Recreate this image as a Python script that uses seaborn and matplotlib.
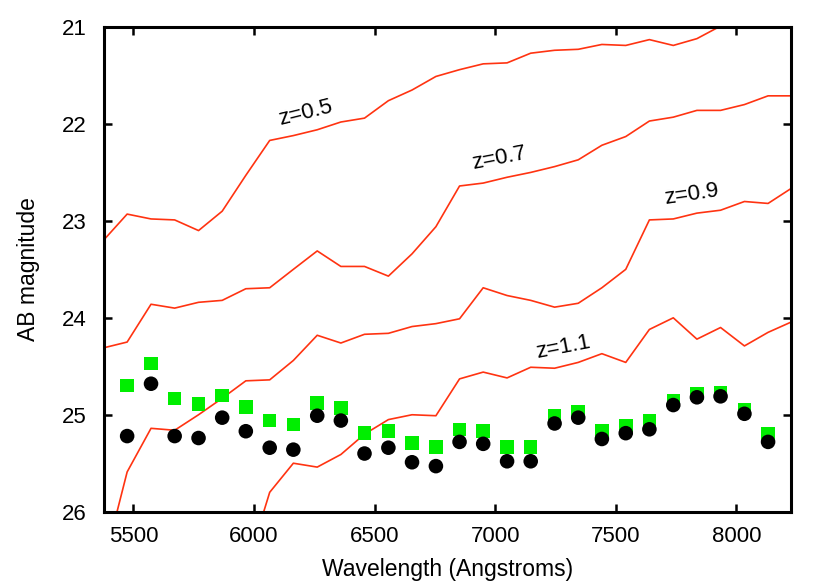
import numpy as np
import pandas as pd
import matplotlib
matplotlib.use("Agg")
import matplotlib.pyplot as plt
import seaborn as sns

# ---------------- data ----------------
wavelength = [5376, 5474, 5573, 5671, 5770, 5868, 5966, 6065, 6163, 6262,
              6360, 6458, 6557, 6655, 6754, 6852, 6950, 7049, 7147, 7246,
              7344, 7442, 7541, 7639, 7738, 7836, 7934, 8033, 8131, 8230]

z05 = [23.20, 22.93, 22.98, 22.99, 23.10, 22.90, 22.53, 22.17, 22.12, 22.06,
       21.98, 21.94, 21.76, 21.65, 21.51, 21.44, 21.38, 21.37, 21.27, 21.24,
       21.23, 21.18, 21.19, 21.13, 21.19, 21.12, 20.99, 20.92, 20.85, 20.80]
z07 = [24.31, 24.25, 23.86, 23.90, 23.84, 23.82, 23.70, 23.69, 23.50, 23.31,
       23.47, 23.47, 23.57, 23.34, 23.06, 22.64, 22.61, 22.55, 22.50, 22.44,
       22.37, 22.22, 22.13, 21.97, 21.93, 21.86, 21.86, 21.80, 21.71, 21.71]
z09 = [26.55, 25.59, 25.14, 25.16, 25.00, 24.83, 24.65, 24.64, 24.44, 24.18,
       24.26, 24.17, 24.16, 24.09, 24.06, 24.01, 23.69, 23.77, 23.82, 23.89,
       23.85, 23.69, 23.50, 22.99, 22.98, 22.92, 22.89, 22.80, 22.82, 22.66]
z11 = [None, None, None, None, None, None, 26.60, 25.80, 25.50, 25.54,
       25.41, 25.20, 25.05, 25.00, 25.01, 24.63, 24.56, 24.62, 24.51, 24.52,
       24.46, 24.37, 24.46, 24.12, 24.00, 24.22, 24.10, 24.29, 24.15, 24.04]

point_wavelength = wavelength[1:29]
green_mag = [24.70, 24.47, 24.83, 24.89, 24.80, 24.92, 25.06, 25.10, 24.88, 24.93,
             25.19, 25.17, 25.29, 25.33, 25.15, 25.17, 25.33, 25.33, 25.01, 24.97,
             25.17, 25.11, 25.06, 24.86, 24.78, 24.77, 24.95, 25.20]
black_mag = [25.22, 24.68, 25.22, 25.24, 25.03, 25.17, 25.34, 25.36, 25.01, 25.06,
             25.40, 25.34, 25.49, 25.53, 25.28, 25.30, 25.48, 25.48, 25.09, 25.03,
             25.25, 25.19, 25.15, 24.90, 24.82, 24.81, 24.99, 25.28]

curve_labels = ["z=0.5", "z=0.7", "z=0.9", "z=1.1"]
label_x = [6215, 7015, 7814, 7280]
label_y = [21.89, 22.35, 22.73, 24.30]
label_rot = [14, 11, 8.5, 11]

# ---------------- build tables ----------------
rows = []
for name, vals in zip(curve_labels, [z05, z07, z09, z11]):
    for w, m in zip(wavelength, vals):
        if m is not None:
            rows.append({"wavelength": w, "mag": m, "z": name})
curves = pd.DataFrame(rows)
points = pd.DataFrame({"wavelength": point_wavelength,
                       "green": green_mag, "black": black_mag})

# ---------------- style ----------------
sns.set_theme(style="ticks")
plt.rcParams["font.family"] = ["Liberation Sans", "DejaVu Sans"]

RED = "#ff3311"
GREEN = "#00ee00"

fig = plt.figure(figsize=(8.3, 5.81), dpi=100)
ax = fig.add_axes([0.1247, 0.1193, 0.953 - 0.1247, 0.9535 - 0.1193])

sns.lineplot(data=curves, x="wavelength", y="mag", units="z", estimator=None,
             sort=False, color=RED, linewidth=1.2, ax=ax, zorder=2)
sns.scatterplot(data=points, x="wavelength", y="green", marker="s", s=95,
                color=GREEN, edgecolor="none", linewidth=0, ax=ax, zorder=3)
sns.scatterplot(data=points, x="wavelength", y="black", marker="o", s=110,
                color="black", edgecolor="none", linewidth=0, ax=ax, zorder=4)

for t, x, y, r in zip(curve_labels, label_x, label_y, label_rot):
    ax.text(x, y, t, fontsize=16, rotation=r, rotation_mode="anchor",
            ha="center", va="center", color="black", zorder=5)

ax.set_xlim(5376, 8226)
ax.set_ylim(26, 21)
ax.set_xticks([5500, 6000, 6500, 7000, 7500, 8000])
ax.set_yticks([21, 22, 23, 24, 25, 26])
ax.set_xlabel("Wavelength (Angstroms)", fontsize=16.5, labelpad=8, color="black")
ax.set_ylabel("AB magnitude", fontsize=16.5, labelpad=16, color="black")

for s in ax.spines.values():
    s.set_visible(True)
    s.set_linewidth(2.2)
    s.set_color("black")
ax.tick_params(axis="both", which="major", direction="in", length=6, width=1.8,
               top=True, right=True, labelsize=16, colors="black")
ax.tick_params(axis="x", pad=10)
ax.tick_params(axis="y", pad=12)

fig.savefig("out.png", dpi=100)
